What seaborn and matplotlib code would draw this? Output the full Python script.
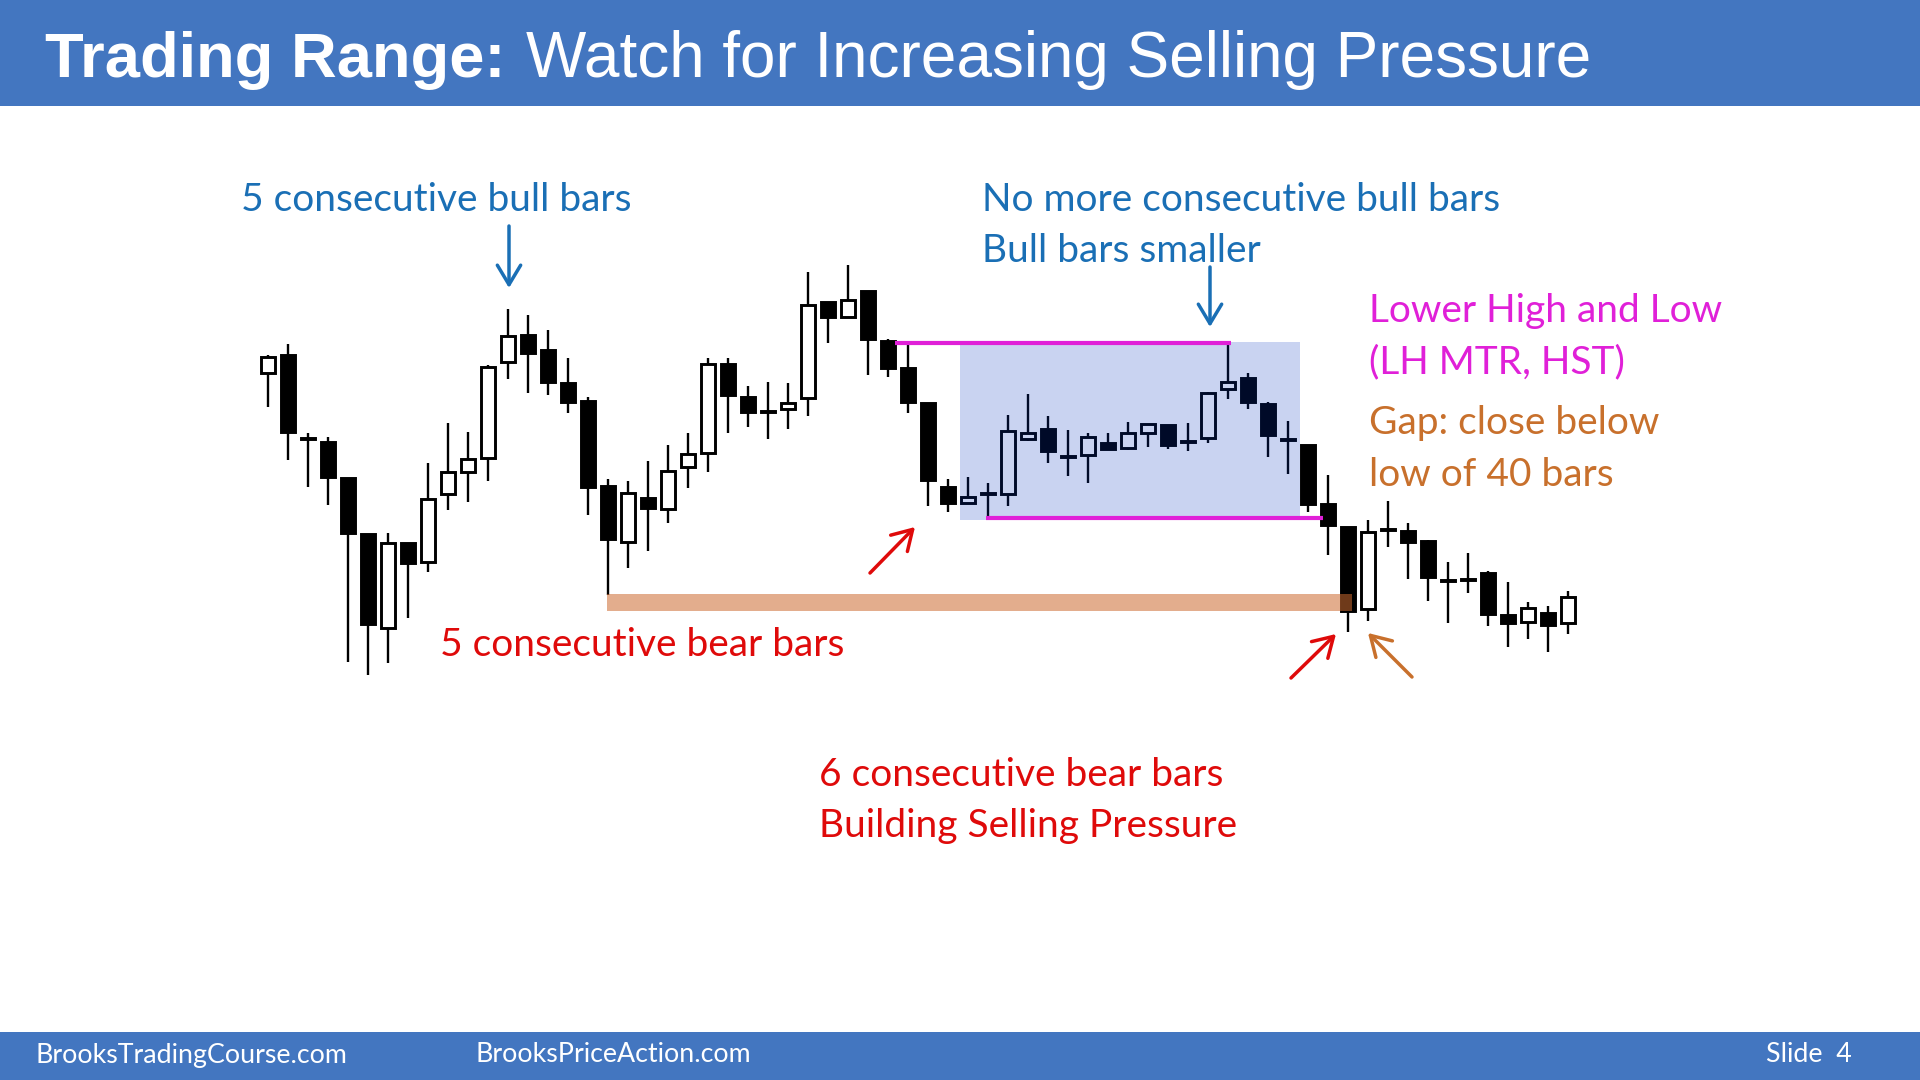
import matplotlib
matplotlib.use("Agg")
import matplotlib.pyplot as plt
from matplotlib.patches import Rectangle
from matplotlib import font_manager
import numpy as np
import pandas as pd
import seaborn as sns

# ---------------- data (price units are arbitrary) ----------------
bar_open  = [327, 345, 262, 258, 222, 166, 72, 157, 138, 206, 228, 242, 338, 365, 350, 317,
             299, 214, 158, 202, 191, 233, 247, 336, 303, 289, 291, 302, 398, 383, 409, 359,
             332, 297, 213, 197, 207, 206, 261, 271, 244, 245, 257, 252, 267, 275, 259, 262,
             311, 322, 296, 261, 255, 196, 173, 91, 171, 169, 159, 120, 121, 127, 85, 78, 87, 77]
bar_high  = [345, 356, 267, 263, 222, 166, 167, 157, 237, 277, 268, 335, 391, 385, 370, 342,
             303, 221, 219, 239, 255, 267, 342, 342, 314, 318, 317, 428, 398, 435, 409, 361,
             355, 297, 221, 223, 217, 285, 306, 284, 270, 267, 267, 278, 276, 275, 277, 308,
             355, 327, 298, 279, 255, 225, 173, 180, 199, 177, 160, 138, 147, 129, 118, 98, 94, 109]
bar_low   = [293, 240, 213, 195, 38, 25, 37, 82, 128, 190, 198, 219, 321, 307, 305, 287,
             185, 105, 132, 149, 177, 212, 228, 267, 273, 261, 271, 284, 357, 382, 325, 323,
             287, 194, 188, 197, 182, 194, 259, 237, 224, 217, 251, 250, 253, 251, 249, 257,
             301, 291, 243, 226, 188, 145, 68, 79, 153, 121, 99, 77, 107, 74, 53, 61, 48, 66]
bar_close = [343, 268, 261, 223, 167, 76, 157, 137, 201, 228, 241, 333, 364, 347, 318, 298,
             213, 161, 207, 192, 229, 246, 336, 305, 288, 288, 297, 395, 383, 400, 361, 332,
             298, 220, 197, 203, 206, 269, 267, 249, 243, 263, 251, 267, 276, 255, 258, 307,
             318, 298, 265, 260, 196, 175, 89, 168, 170, 158, 123, 119, 120, 86, 77, 92, 75, 103]

# reference levels / bar indices used by the annotations
range_start_bar, range_end_bar = 34.6, 51.6      # shaded trading range (bar index units)
range_top, range_bottom = 358, 180                # shaded trading range (price)
lh_line = (31.35, 48.15, 357)                     # lower-high line: from bar, to bar, price
ll_line = (35.9, 52.75, 182)                      # low line
gap_line = (16.95, 54.2, 97.5)                    # low of 40 bars (tan band)

title_bold = "Trading Range:"
title_rest = "Watch for Increasing Selling Pressure"
footer_left = "BrooksTradingCourse.com"
footer_mid = "BrooksPriceAction.com"
footer_right = "Slide  4"

df = pd.DataFrame({"open": bar_open, "high": bar_high, "low": bar_low, "close": bar_close})
df["idx"] = np.arange(len(df))
df["bull"] = df["close"] > df["open"]

# ---------------- styling ----------------
sns.set_theme(style="white")
names = {f.name for f in font_manager.fontManager.ttflist}
TEXT_FONT = "Lato" if "Lato" in names else "DejaVu Sans"
TITLE_FONT = "Liberation Sans" if "Liberation Sans" in names else "DejaVu Sans"
plt.rcParams["font.family"] = [TEXT_FONT, "DejaVu Sans"]

BAND = "#4376C0"
BLUE = "#1A6FB5"
RED = "#DF0A0A"
MAGENTA = "#E020D8"
ORANGE = "#C8702C"

W, H = 1920, 1080
fig = plt.figure(figsize=(W / 100, H / 100), dpi=100)
fig.patch.set_facecolor("white")

# price axes: bar i is centred at pixel 268 + 20 i, price p at pixel row 700 - p
ax = fig.add_axes([0, 0, 1, 1])
ax.set_xlim(-268 / 20, (W - 268) / 20)
ax.set_ylim(700 - H, 700)
ax.set_axis_off()
sns.despine(ax=ax, left=True, bottom=True)

body_w = 0.68
ax.vlines(df["idx"], df["low"], df["high"], color="black", linewidth=1.7, zorder=2)
for _, r in df.iterrows():
    lo = min(r["open"], r["close"])
    hgt = max(abs(r["close"] - r["open"]), 1.2)
    ax.add_patch(Rectangle((r["idx"] - body_w / 2, lo), body_w, hgt,
                           facecolor="white" if r["bull"] else "black",
                           edgecolor="black", linewidth=2.1, zorder=3))

# shaded trading range
ax.add_patch(Rectangle((range_start_bar, range_bottom), range_end_bar - range_start_bar,
                       range_top - range_bottom, facecolor="#0030BE", alpha=0.21,
                       edgecolor="none", zorder=4))
ax.hlines([lh_line[2]], lh_line[0], lh_line[1], color=MAGENTA, linewidth=3.0, zorder=5)
ax.hlines([ll_line[2]], ll_line[0], ll_line[1], color=MAGENTA, linewidth=3.0, zorder=5)
ax.add_patch(Rectangle((gap_line[0], gap_line[2] - 8.3), gap_line[1] - gap_line[0], 16.6,
                       facecolor="#CC6A30", alpha=0.55, edgecolor="none", zorder=5))

# ---------------- overlay in pixel coordinates ----------------
ov = fig.add_axes([0, 0, 1, 1], zorder=10)
ov.set_xlim(0, W)
ov.set_ylim(H, 0)
ov.set_facecolor("none")
ov.set_axis_off()

ov.add_patch(Rectangle((0, 0), W, 106, facecolor=BAND, edgecolor="none"))
ov.add_patch(Rectangle((0, 1032), W, 48, facecolor=BAND, edgecolor="none"))

renderer = fig.canvas.get_renderer()


def fit_size(s, family, weight, target):
    t = fig.text(0, 0, s, fontsize=30, family=family, fontweight=weight)
    w = t.get_window_extent(renderer=renderer).width
    t.remove()
    return 30 * target / w


tsize = fit_size(title_bold, TITLE_FONT, "bold", 461)
ov.text(45, 77, title_bold, color="white", fontsize=tsize, family=TITLE_FONT,
        fontweight="bold", va="baseline", ha="left")
ov.text(526, 77, title_rest, color="white", fontsize=tsize * 1.01, family=TITLE_FONT,
        va="baseline", ha="left")

fsize = fit_size(footer_left, TEXT_FONT, "normal", 311)
ov.text(36, 1055, footer_left, color="white", fontsize=fsize, va="center", ha="left")
ov.text(475, 1055, footer_mid, color="white", fontsize=fsize, va="center", ha="left")
ov.text(1852, 1055, footer_right, color="white", fontsize=fsize, va="center", ha="right")

asize = fit_size("5 consecutive bull bars", TEXT_FONT, "normal", 390)
labels = [
    ("5 consecutive bull bars", 241, 211, BLUE),
    ("No more consecutive bull bars", 982, 211, BLUE),
    ("Bull bars smaller", 982, 262, BLUE),
    ("Lower High and Low", 1369, 322, MAGENTA),
    ("(LH MTR, HST)", 1369, 373, MAGENTA),
    ("Gap: close below", 1369, 434, ORANGE),
    ("low of 40 bars", 1369, 486, ORANGE),
    ("5 consecutive bear bars", 440, 656, RED),
    ("6 consecutive bear bars", 819, 786, RED),
    ("Building Selling Pressure", 819, 837, RED),
]
for s, x, y, c in labels:
    ov.text(x, y, s, color=c, fontsize=asize, va="baseline", ha="left")

arrows = [
    ((509, 288), (509, 226), BLUE),
    ((1210, 327), (1210, 267), BLUE),
    ((915, 527), (870, 573), RED),
    ((1336, 634), (1291, 678), RED),
    ((1368, 633), (1412, 677), ORANGE),
]
for tip, tail, c in arrows:
    ov.annotate("", xy=tip, xytext=tail,
                arrowprops=dict(arrowstyle="->,head_length=0.7,head_width=0.42",
                                color=c, lw=2.5, mutation_scale=20,
                                shrinkA=0, shrinkB=0))

fig.savefig("out.png", dpi=100, facecolor="white")
